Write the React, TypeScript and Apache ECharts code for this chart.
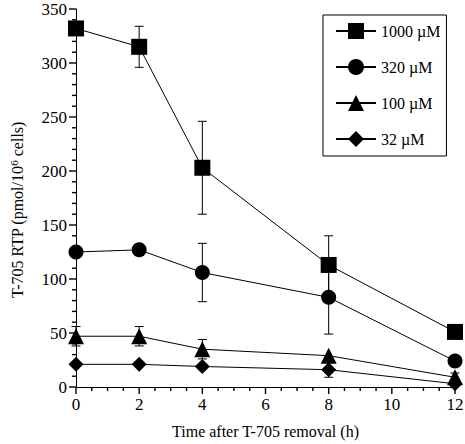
import React, { useEffect, useRef } from "react";
import * as echarts from "echarts";

const times = [0, 2, 4, 8, 12];
const seriesNames = ["1000 µM", "320 µM", "100 µM", "32 µM"];
const symbols = ["rect", "circle", "triangle", "diamond"];
const symbolSizes = [16, 15, 16, 15];
const v1000 = [332, 315, 203, 113, 51];
const v320 = [125, 127, 106, 83, 24];
const v100 = [47, 47, 35, 29, 9];
const v32 = [21, 21, 19, 16, 3];
const e1000 = [0, 19, 43, 27, 0];
const e320 = [0, 5, 27, 34, 0];
const e100 = [9, 9, 9, 0, 4];
const e32 = [0, 0, 0, 7, 0];
const xTicks = [0, 2, 4, 6, 8, 10, 12];
const yTicks = [0, 50, 100, 150, 200, 250, 300, 350];
const xMinorStep = 0.5;
const yMinorStep = 10;

const values = [v1000, v320, v100, v32];
const errors = [e1000, e320, e100, e32];

const FONT = "Liberation Serif";

export default function App() {
  const ref = useRef<HTMLDivElement>(null);
  useEffect(() => {
    if (!ref.current) return;
    const chart = echarts.init(ref.current, null, { renderer: "svg" });
    const xMin = xTicks[0];
    const xMax = xTicks[xTicks.length - 1];
    const yMin = yTicks[0];
    const yMax = yTicks[yTicks.length - 1];

    const errData: number[][] = [];
    values.forEach((vals, si) => {
      vals.forEach((v, i) => {
        const e = errors[si][i];
        if (e > 0) errData.push([times[i], v - e, v + e]);
      });
    });
    const tickData: number[][] = [];
    for (let v = xMin; v <= xMax + 1e-9; v += xMinorStep) {
      tickData.push([0, v, xTicks.includes(v) ? 1 : 0]);
    }
    for (let v = yMin; v <= yMax + 1e-9; v += yMinorStep) {
      tickData.push([1, v, yTicks.includes(v) ? 1 : 0]);
    }

    const lineSeries = values.map((vals, si) => ({
      name: seriesNames[si],
      type: "line",
      data: vals.map((v, i) => [times[i], v]),
      symbol: symbols[si],
      symbolSize: symbolSizes[si],
      itemStyle: { color: "#000" },
      lineStyle: { color: "#000", width: 1 },
      z: 3,
    }));
    chart.setOption({
      animation: false,
      textStyle: { fontFamily: FONT, color: "#000" },
      grid: { left: 73, right: 10, top: 9, bottom: 54 },
      legend: {
        data: seriesNames,
        orient: "vertical",
        left: 323,
        top: 15,
        padding: [8, 6, 9, 12],
        itemWidth: 40,
        itemHeight: 20,
        itemGap: 20,
        borderColor: "#000",
        borderWidth: 1,
        textStyle: { fontFamily: FONT, fontSize: 16, color: "#000" },
      },
      xAxis: {
        type: "value",
        min: xMin,
        max: xMax,
        interval: 2,
        name: "Time after T-705 removal (h)",
        nameLocation: "middle",
        nameGap: 36,
        nameTextStyle: { fontFamily: FONT, fontSize: 16, color: "#000" },
        axisLine: { show: true, onZero: false, lineStyle: { color: "#000", width: 1 } },
        axisTick: { show: false },
        splitLine: { show: false },
        axisLabel: { show: false },
      },
      yAxis: {
        type: "value",
        min: yMin,
        max: yMax,
        interval: 50,
        name: "{a|T-705 RTP (pmol/10}{s|6}{a| cells)}",
        nameLocation: "middle",
        nameGap: 50,
        nameTextStyle: {
          fontFamily: FONT,
          fontSize: 16,
          color: "#000",
          padding: [0, 24, 0, 0],
          rich: {
            a: { fontFamily: FONT, fontSize: 16, color: "#000", lineHeight: 18 },
            s: { fontFamily: FONT, fontSize: 11, color: "#000", lineHeight: 11, verticalAlign: "top" },
          },
        },
        axisLine: { show: true, onZero: false, lineStyle: { color: "#000", width: 1 } },
        axisTick: { show: false },
        splitLine: { show: false },
        axisLabel: { show: false },
      },
      series: [
        {
          type: "custom",
          name: "ticks",
          z: 5,
          silent: true,
          clip: false,
          data: tickData,
          encode: { x: 1, y: 1 },
          renderItem: (params: any, api: any) => {
            const axis = api.value(0);
            const v = api.value(1);
            const major = api.value(2) === 1;
            const style = { stroke: "#000", lineWidth: 1.4 };
            const len = major ? 7 : 4;
            if (axis === 0) {
              const p = api.coord([v, yMin]);
              const children: any[] = [
                { type: "line", shape: { x1: p[0], y1: p[1], x2: p[0], y2: p[1] + len }, style },
              ];
              if (major) {
                children.push({
                  type: "text",
                  x: p[0],
                  y: p[1] + 9,
                  style: {
                    text: String(v),
                    font: "17px 'Liberation Serif'",
                    fontFamily: FONT,
                    fontSize: 17,
                    fill: "#000",
                    align: "center",
                    verticalAlign: "top",
                  },
                });
              }
              return { type: "group", children };
            } else {
              const p = api.coord([xMin, v]);
              const children: any[] = [
                { type: "line", shape: { x1: p[0] - len, y1: p[1], x2: p[0], y2: p[1] }, style },
              ];
              if (major) {
                children.push({
                  type: "text",
                  x: p[0] - 9,
                  y: p[1],
                  style: {
                    text: String(v),
                    font: "17px 'Liberation Serif'",
                    fontFamily: FONT,
                    fontSize: 17,
                    fill: "#000",
                    align: "right",
                    verticalAlign: "middle",
                  },
                });
              }
              return { type: "group", children };
            }
          },
        },
        {
          type: "custom",
          name: "err",
          z: 1,
          data: errData,
          renderItem: (params: any, api: any) => {
            const x = api.value(0);
            const lo = api.coord([x, api.value(1)]);
            const hi = api.coord([x, api.value(2)]);
            const cap = 4.5;
            const style = { stroke: "#000", lineWidth: 1, fill: "none" };
            return {
              type: "group",
              children: [
                { type: "line", shape: { x1: lo[0], y1: lo[1], x2: hi[0], y2: hi[1] }, style },
                { type: "line", shape: { x1: lo[0] - cap, y1: lo[1], x2: lo[0] + cap, y2: lo[1] }, style },
                { type: "line", shape: { x1: hi[0] - cap, y1: hi[1], x2: hi[0] + cap, y2: hi[1] }, style },
              ],
            };
          },
        },
        ...lineSeries,
      ],
    });
    return () => chart.dispose();
  }, []);
  return <div ref={ref} style={{ width: 465, height: 444, position: "absolute", left: 0, top: 0 }} />;
}
